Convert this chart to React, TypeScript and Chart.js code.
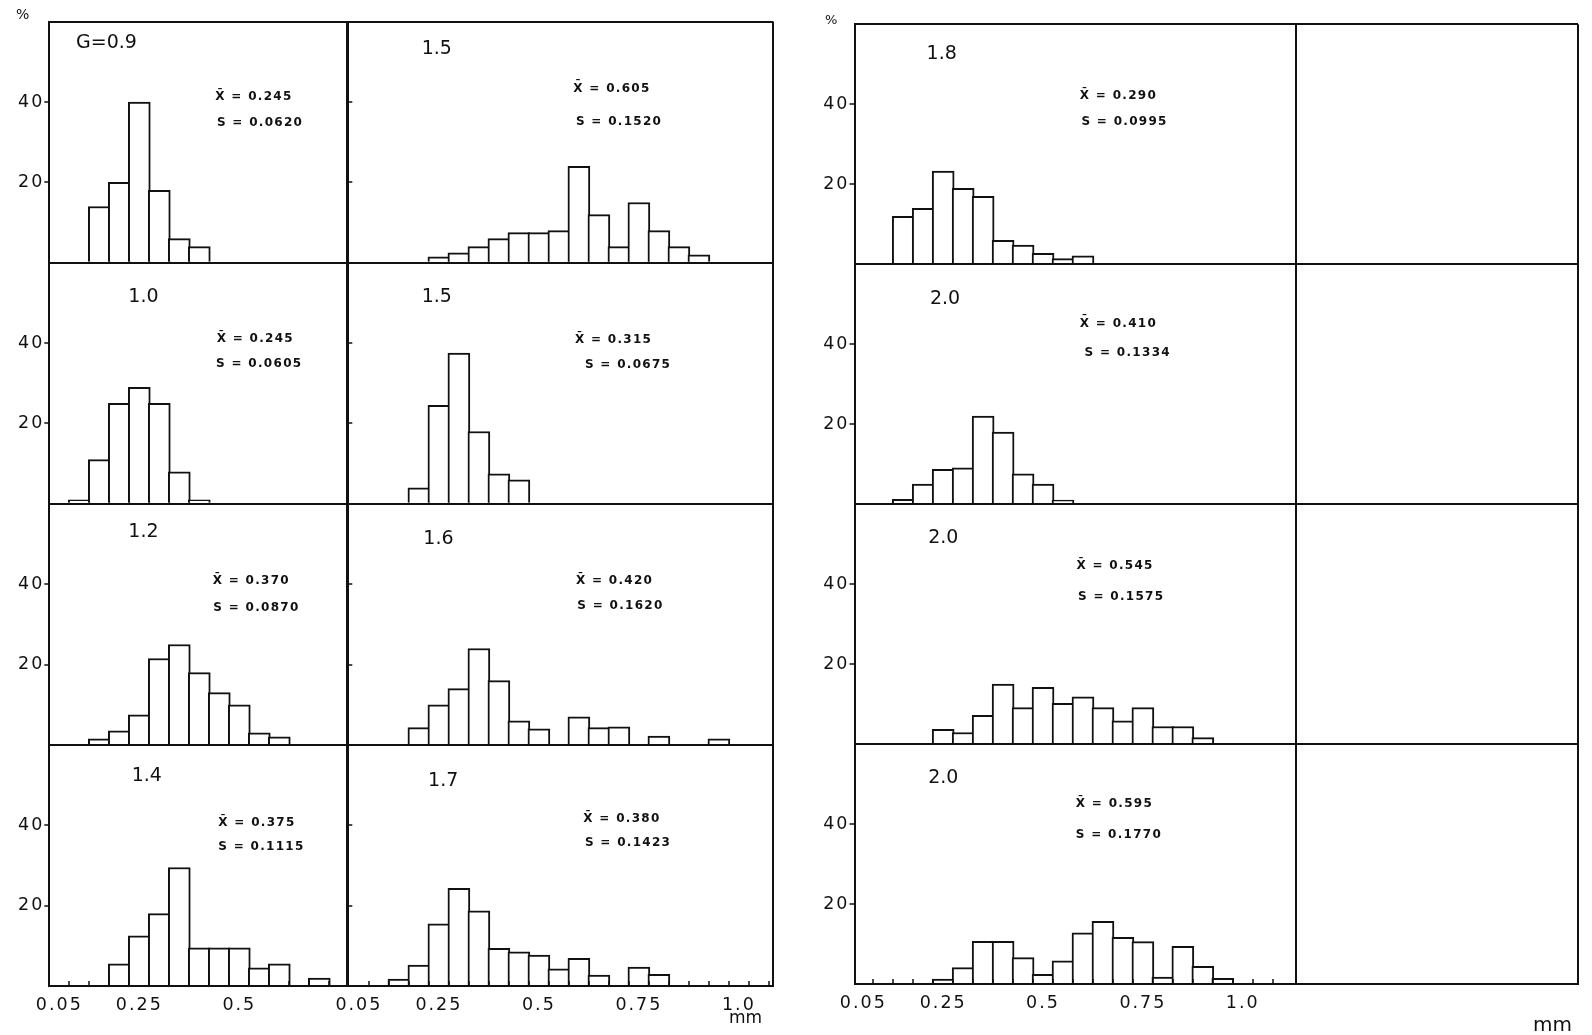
import React, { useEffect, useRef } from "react";
import { Chart, registerables } from "chart.js";

Chart.register(...registerables);

// ---------------- data ----------------
// grain-size classes (class centres, mm)
const SIZE_MM = [0.10, 0.15, 0.20, 0.25, 0.30, 0.35, 0.40, 0.45, 0.50, 0.55, 0.60, 0.65, 0.70, 0.75, 0.80, 0.85, 0.90, 0.95];
// class boundaries (small tick marks on the mm axis)
const CLASS_EDGES_MM = [0.075, 0.125, 0.175, 0.225, 0.275, 0.325, 0.375, 0.425, 0.475, 0.525, 0.575, 0.625, 0.675, 0.725, 0.775, 0.825, 0.875, 0.925, 0.975, 1.025, 1.075];
const X_TICK_VALUES = [0.05, 0.25, 0.5, 0.75, 1.0];
const X_TICK_LABELS = ["0.05", "0.25", "0.5", "0.75", "1.0"];
const Y_TICK_VALUES = [20, 40];
const Y_MAX = 60;

// left block, first column (% per class)
const PCT_G09 = [null, 14, 20, 40, 18, 6, 4, null, null, null, null, null, null, null, null, null, null, null];
const PCT_G10 = [1, 11, 25, 29, 25, 8, 1, null, null, null, null, null, null, null, null, null, null, null];
const PCT_G12 = [null, 1.5, 3.5, 7.5, 21.5, 25, 18, 13, 10, 3, 2, null, null, null, null, null, null, null];
const PCT_G14 = [null, null, 5.5, 12.5, 18, 29.5, 9.5, 9.5, 9.5, 4.5, 5.5, null, 2, null, null, null, null, null];
// left block, second column
const PCT_G15A = [null, null, null, 1.5, 2.5, 4, 6, 7.5, 7.5, 8, 24, 12, 4, 15, 8, 4, 2, null];
const PCT_G15B = [null, null, 4, 24.5, 37.5, 18, 7.5, 6, null, null, null, null, null, null, null, null, null, null];
const PCT_G16 = [null, null, 4.3, 10, 14, 24, 16, 6, 4, null, 7, 4.3, 4.5, null, 2.2, null, null, 1.5];
const PCT_G17 = [null, 1.7, 5.2, 15.5, 24.3, 18.7, 9.4, 8.5, 7.7, 4.3, 6.9, 2.7, null, 4.7, 2.9, null, null, null];
// right block
const PCT_G18 = [null, 12, 14, 23.3, 19, 17, 6, 4.8, 2.7, 1.4, 2.1, null, null, null, null, null, null, null];
const PCT_G20A = [null, 1.2, 5, 8.7, 9.1, 22, 18, 7.6, 5, 1, null, null, null, null, null, null, null, null];
const PCT_G20B = [null, null, null, 3.7, 2.9, 7.2, 15, 9.1, 14.2, 10.2, 11.8, 9.1, 5.8, 9.1, 4.4, 4.4, 1.6, null];
const PCT_G20C = [null, null, null, 1.2, 4.1, 10.7, 10.7, 6.6, 2.4, 5.8, 12.8, 15.7, 11.7, 10.6, 1.7, 9.4, 4.4, 1.4];

const COL1_TITLES = ["G=0.9", "1.0", "1.2", "1.4"];
const COL1_MEANS = ["0.245", "0.245", "0.370", "0.375"];
const COL1_SDS = ["0.0620", "0.0605", "0.0870", "0.1115"];
const COL2_TITLES = ["1.5", "1.5", "1.6", "1.7"];
const COL2_MEANS = ["0.605", "0.315", "0.420", "0.380"];
const COL2_SDS = ["0.1520", "0.0675", "0.1620", "0.1423"];
const COL3_TITLES = ["1.8", "2.0", "2.0", "2.0"];
const COL3_MEANS = ["0.290", "0.410", "0.545", "0.595"];
const COL3_SDS = ["0.0995", "0.1334", "0.1575", "0.1770"];

// ---------------- layout / style ----------------
const PAGE_W = 1592;
const PAGE_H = 1035;
const PX_PER_MM = 400;
const CLASS_WIDTH_MM = 0.05;
const BAR_BORDER = 2;
const BAR_PX = CLASS_WIDTH_MM * PX_PER_MM + BAR_BORDER;
const X_AXIS_H = 40;
const INK = "#111";
const CLEAR = "rgba(0,0,0,0)";
const FONT = '"DejaVu Sans", "Liberation Sans", sans-serif';
const AXIS_FONT_SIZE = 17.5;

type TextPos = { title: [number, number]; mean: [number, number]; sd: [number, number] };

type ColumnSpec = {
  left: number; right: number; top: number; bottom: number;
  mmAtLeft: number; dividersMm: number[]; nLabels: number;
  yAxisW: number; yTickLen: number; showYLabels: boolean;
  rows: (number | null)[][];
  titles: string[]; means: string[]; sds: string[];
  textPos: TextPos[];
};

const COLUMNS: ColumnSpec[] = [
  {
    left: 49.3, right: 348.3, top: 21.7, bottom: 986, mmAtLeft: 0.025, dividersMm: [], nLabels: 3,
    yAxisW: 45, yTickLen: 5, showYLabels: true,
    rows: [PCT_G09, PCT_G10, PCT_G12, PCT_G14],
    titles: COL1_TITLES, means: COL1_MEANS, sds: COL1_SDS,
    textPos: [
      { title: [0.092, 54.7], mean: [0.44, 41.3], sd: [0.444, 34.7] },
      { title: [0.2225, 51.5], mean: [0.4435, 41.1], sd: [0.442, 34.8] },
      { title: [0.2225, 53.1], mean: [0.4335, 40.9], sd: [0.435, 34.2] },
      { title: [0.231, 52.3], mean: [0.4475, 40.5], sd: [0.4475, 34.7] },
    ],
  },
  {
    left: 347.3, right: 773.3, top: 21.7, bottom: 986, mmAtLeft: 0.021, dividersMm: [], nLabels: 5,
    yAxisW: 10, yTickLen: -5, showYLabels: false,
    rows: [PCT_G15A, PCT_G15B, PCT_G16, PCT_G17],
    titles: COL2_TITLES, means: COL2_MEANS, sds: COL2_SDS,
    textPos: [
      { title: [0.207, 53.2], mean: [0.586, 43.4], sd: [0.5925, 35] },
      { title: [0.207, 51.5], mean: [0.59, 40.8], sd: [0.615, 34.6] },
      { title: [0.211, 51.2], mean: [0.5925, 40.9], sd: [0.596, 34.7] },
      { title: [0.223, 51.1], mean: [0.611, 41.5], sd: [0.615, 35.7] },
    ],
  },
  {
    left: 854.5, right: 1579, top: 24.3, bottom: 984, mmAtLeft: 0.028, dividersMm: [1.1335], nLabels: 5,
    yAxisW: 45, yTickLen: 5, showYLabels: true,
    rows: [PCT_G18, PCT_G20A, PCT_G20B, PCT_G20C],
    titles: COL3_TITLES, means: COL3_MEANS, sds: COL3_SDS,
    textPos: [
      { title: [0.2085, 52.5], mean: [0.592, 42.1], sd: [0.596, 35.7] },
      { title: [0.2168, 51.4], mean: [0.592, 45.2], sd: [0.604, 37.9] },
      { title: [0.2125, 51.6], mean: [0.5835, 44.6], sd: [0.5875, 36.8] },
      { title: [0.2125, 51.4], mean: [0.582, 45], sd: [0.582, 37.2] },
    ],
  },
];

const near = (a: number, b: number) => Math.abs(a - b) < 1e-6;

function textPlugin(col: ColumnSpec) {
  return {
    id: "panelText",
    beforeDraw(chart: any) {
      chart.ctx.letterSpacing = "2px";
    },
    afterDraw(chart: any) {
      const ctx = chart.ctx;
      const xs = chart.scales.x;
      ctx.save();
      ctx.fillStyle = INK;
      ctx.textAlign = "left";
      ctx.textBaseline = "middle";
      col.titles.forEach((title, i) => {
        const ys = chart.scales["y" + i];
        const p = col.textPos[i];
        ctx.letterSpacing = "0px";
        ctx.font = `19px ${FONT}`;
        ctx.fillText(title, xs.getPixelForValue(p.title[0]), ys.getPixelForValue(p.title[1]));
        ctx.font = `bold 12px ${FONT}`;
        ctx.letterSpacing = "1.3px";
        ctx.fillText(`X\u0304 = ${col.means[i]}`, xs.getPixelForValue(p.mean[0]), ys.getPixelForValue(p.mean[1]));
        ctx.fillText(`S = ${col.sds[i]}`, xs.getPixelForValue(p.sd[0]), ys.getPixelForValue(p.sd[1]));
      });
      ctx.restore();
      ctx.letterSpacing = "0px";
    },
  };
}

function makeConfig(col: ColumnSpec): any {
  const xMin = col.mmAtLeft;
  const xMax = col.mmAtLeft + (col.right - col.left) / PX_PER_MM;
  const borderVals = [...col.dividersMm, xMax];
  const labelVals = X_TICK_VALUES.slice(0, col.nLabels);
  const labelTexts = X_TICK_LABELS.slice(0, col.nLabels);
  const edgeLimit = col.dividersMm.length ? col.dividersMm[0] : xMax;
  const edges = CLASS_EDGES_MM.filter((e) => e > xMin && e < edgeLimit - 1e-6);
  const tickVals = [...edges, ...labelVals, ...borderVals].sort((a, b) => a - b);

  const scales: any = {
    x: {
      type: "linear",
      position: "bottom",
      min: xMin,
      max: xMax,
      bounds: "data",
      offset: false,
      afterBuildTicks: (s: any) => {
        s.ticks = tickVals.map((v) => ({ value: v }));
      },
      afterFit: (s: any) => {
        s.height = X_AXIS_H;
      },
      ticks: {
        autoSkip: false,
        maxRotation: 0,
        minRotation: 0,
        padding: 14,
        color: INK,
        font: { family: FONT, size: AXIS_FONT_SIZE },
        callback: (v: number) => {
          const k = labelVals.findIndex((t) => near(t, v));
          return k >= 0 ? labelTexts[k] : "";
        },
      },
      grid: {
        z: 1,
        offset: false,
        drawOnChartArea: true,
        lineWidth: 2,
        color: (c: any) => (c.tick && borderVals.some((b) => near(b, c.tick.value)) ? INK : CLEAR),
        tickColor: (c: any) => (c.tick && edges.some((e) => near(e, c.tick.value)) ? INK : CLEAR),
        tickLength: -5,
        tickWidth: 1.5,
      },
      border: { display: true, color: INK, width: 2, z: 1 },
    },
  };

  col.rows.forEach((_, i) => {
    scales["y" + i] = {
      type: "linear",
      position: "left",
      stack: "rows",
      stackWeight: 1,
      weight: col.rows.length - i,
      min: 0,
      max: Y_MAX,
      bounds: "data",
      afterBuildTicks: (s: any) => {
        s.ticks = [0, ...Y_TICK_VALUES, Y_MAX].map((v) => ({ value: v }));
      },
      afterFit: (s: any) => {
        s.width = col.yAxisW;
      },
      ticks: {
        autoSkip: false,
        padding: 0,
        color: INK,
        font: { family: FONT, size: AXIS_FONT_SIZE },
        callback: (v: number) => (col.showYLabels && Y_TICK_VALUES.includes(v) ? String(v) : ""),
      },
      grid: {
        z: 1,
        lineWidth: 2,
        color: (c: any) => (c.tick && (c.tick.value === 0 || c.tick.value === Y_MAX) ? INK : CLEAR),
        tickColor: (c: any) => (c.tick && Y_TICK_VALUES.includes(c.tick.value) ? INK : CLEAR),
        tickLength: col.yTickLen,
        tickWidth: 1.5,
      },
      border: { display: true, color: INK, width: 2, z: 1 },
    };
  });

  return {
    type: "bar",
    data: {
      datasets: col.rows.map((vals, i) => ({
        data: SIZE_MM.map((x, k) => ({ x, y: vals[k] })).filter((p) => p.y !== null),
        xAxisID: "x",
        yAxisID: "y" + i,
        stack: "classes",
        backgroundColor: "#ffffff",
        borderColor: INK,
        borderWidth: BAR_BORDER,
        borderSkipped: "start",
        barThickness: BAR_PX,
      })),
    },
    options: {
      responsive: false,
      maintainAspectRatio: false,
      animation: false,
      events: [],
      layout: {
        padding: {
          left: col.left - col.yAxisW,
          right: PAGE_W - col.right,
          top: col.top,
          bottom: PAGE_H - col.bottom - X_AXIS_H,
        },
      },
      plugins: { legend: { display: false }, tooltip: { enabled: false }, title: { display: false } },
      scales,
    },
    plugins: [textPlugin(col)],
  };
}

function ColumnChart({ col }: { col: ColumnSpec }) {
  const ref = useRef<HTMLCanvasElement>(null);
  useEffect(() => {
    const chart = new Chart(ref.current as HTMLCanvasElement, makeConfig(col));
    return () => chart.destroy();
  }, [col]);
  return (
    <canvas
      ref={ref}
      width={PAGE_W}
      height={PAGE_H}
      style={{ position: "absolute", left: 0, top: 0, width: PAGE_W, height: PAGE_H }}
    />
  );
}

const labelStyle = (left: number, top: number, size: number): React.CSSProperties => ({
  position: "absolute",
  left,
  top,
  fontFamily: FONT,
  fontSize: size,
  lineHeight: 1,
  color: INK,
  whiteSpace: "nowrap",
});

export default function App() {
  return (
    <div
      style={{
        position: "absolute",
        left: 0,
        top: 0,
        width: PAGE_W,
        height: PAGE_H,
        overflow: "hidden",
        background: "#fff",
      }}
    >
      {COLUMNS.map((c, i) => (
        <ColumnChart key={i} col={c} />
      ))}
      <div style={labelStyle(16, 7, 14)}>%</div>
      <div style={labelStyle(825, 13, 13)}>%</div>
      <div style={labelStyle(729, 1009, 17)}>mm</div>
      <div style={labelStyle(1533, 1014, 20)}>mm</div>
    </div>
  );
}
